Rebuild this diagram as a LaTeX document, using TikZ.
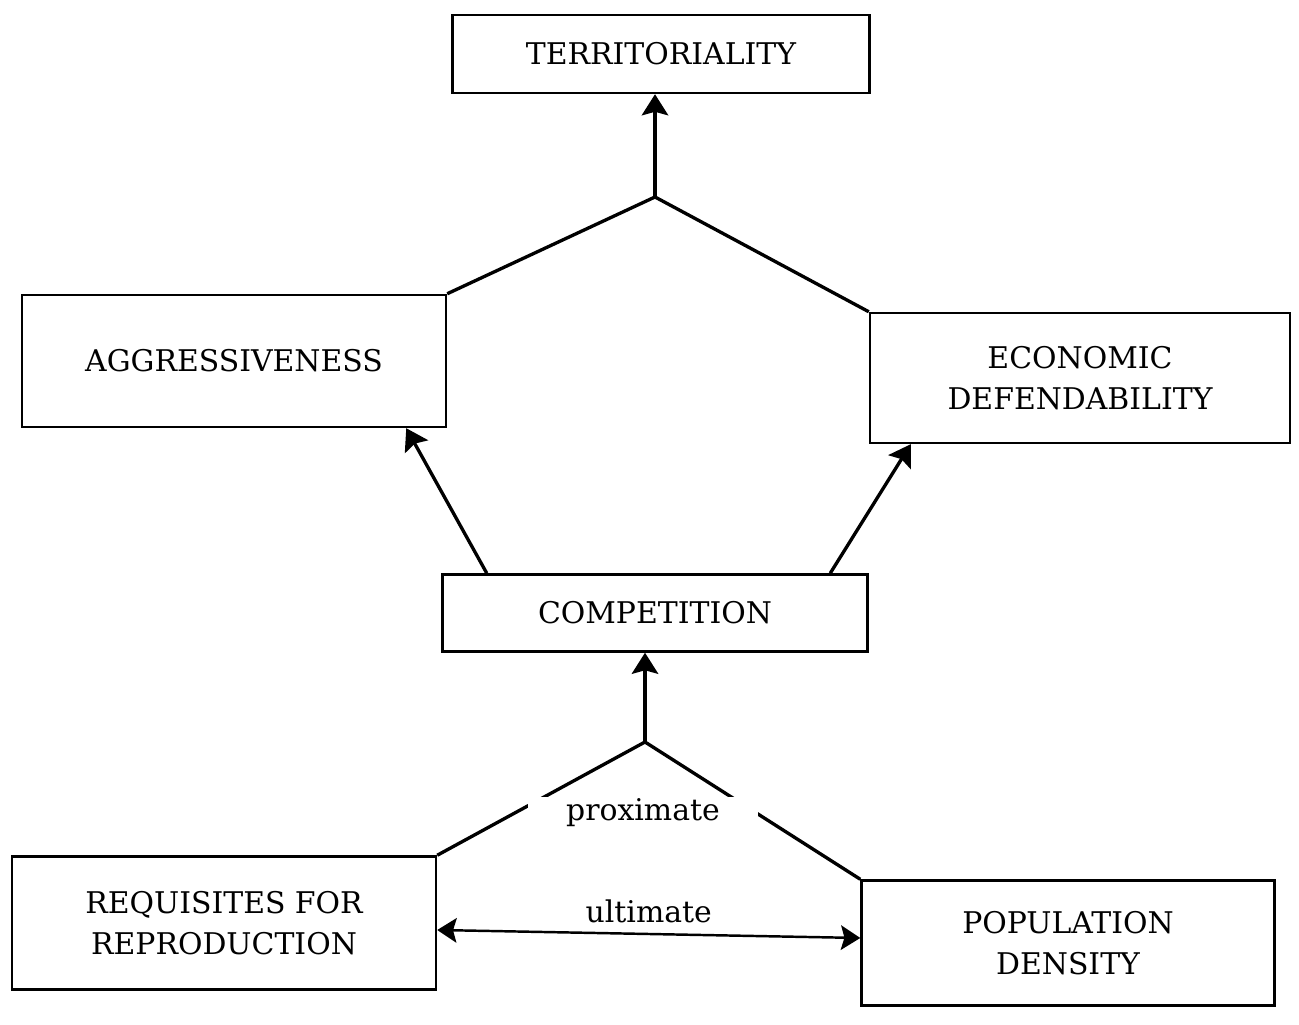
\documentclass[tikz,border=0pt]{standalone}
\usepackage{fontspec}
\setmainfont{DejaVu Serif}
\usetikzlibrary{arrows.meta, positioning, calc}

\begin{document}
\begin{tikzpicture}[
    font=\fontsize{17}{23}\selectfont,
    factorBox/.style={draw, line width=1.4pt, align=center, inner sep=0pt},
    connLine/.style={line width=1.9pt},
    connArrow/.style={-{Stealth[length=12pt, width=15pt, inset=2pt]}, line width=1.9pt},
    bothArrow/.style={{Stealth[length=11pt, width=14pt, inset=2pt]}-{Stealth[length=11pt, width=14pt, inset=2pt]}, line width=1.4pt}
]
    \useasboundingbox (0,0) rectangle (25.98,20.5);

    % Nodes
    \node[factorBox, minimum width=8.34cm, minimum height=1.56cm] (terr) at (13.22,19.42) {TERRITORIALITY};
    \node[factorBox, minimum width=8.48cm, minimum height=2.64cm] (aggr) at (4.68,13.28) {AGGRESSIVENESS};
    \node[factorBox, minimum width=8.4cm, minimum height=2.6cm] (econ) at (21.6,12.94) {ECONOMIC\\DEFENDABILITY};
    \node[factorBox, minimum width=8.5cm, minimum height=1.54cm] (comp) at (13.1,8.24) {COMPETITION};
    \node[factorBox, minimum width=8.48cm, minimum height=2.66cm] (req) at (4.48,2.04) {REQUISITES FOR\\REPRODUCTION};
    \node[factorBox, minimum width=8.26cm, minimum height=2.5cm] (pop) at (21.36,1.64) {POPULATION\\DENSITY};

    \coordinate (topJoin) at (13.1,16.56);
    \coordinate (botJoin) at (12.9,5.66);

    % Arrows
    \draw[connLine] (aggr.north east) -- (topJoin) -- (econ.north west);
    \draw[connArrow] (topJoin) -- (topJoin |- terr.south);

    \draw[connArrow] ([xshift=0.91cm]comp.north west) -- ([xshift=-0.82cm]aggr.south east);
    \draw[connArrow] ([xshift=-0.77cm]comp.north east) -- ([xshift=0.84cm]econ.south west);

    \draw[connLine] (req.north east) -- (botJoin) -- (pop.north west);
    \draw[connArrow] (botJoin) -- (botJoin |- comp.south);
    \node[fill=white, inner xsep=22pt, inner ysep=1pt] (prox) at (12.86,4.24) {proximate};

    \draw[bothArrow] ([yshift=-0.14cm]req.east) -- node[above=0.08cm] (ult) {ultimate} ([yshift=0.1cm]pop.west);

\end{tikzpicture}
\end{document}
